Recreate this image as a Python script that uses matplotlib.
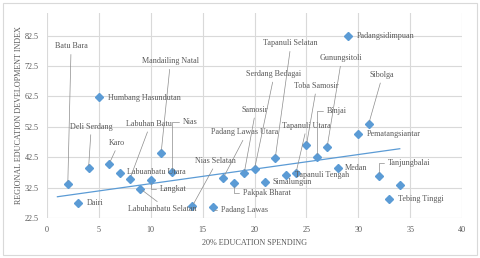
import matplotlib.pyplot as plt
from matplotlib.patches import Rectangle

plt.rcParams['font.family'] = ['Liberation Serif', 'DejaVu Serif']

# data
regions = ['Batu Bara', 'Dairi', 'Deli Serdang', 'Humbang Hasundutan', 'Karo',
           'Labuanbatu Utara', 'Labuhan Batu', 'Labuhanbatu Selatan', 'Langkat',
           'Mandailing Natal', 'Nias', 'Nias Selatan', 'Padang Lawas',
           'Padang Lawas Utara', 'Pakpak Bharat', 'Samosir', 'Serdang Bedagai',
           'Simalungun', 'Tapanuli Selatan', 'Tapanuli Tengah', 'Tapanuli Utara',
           'Toba Samosir', 'Binjai', 'Gunungsitoli', 'Medan', 'Padangsidimpuan',
           'Pematangsiantar', 'Sibolga', 'Tanjungbalai', 'Tebing Tinggi', '']
spending = [2, 3, 4, 5, 6, 7, 8, 9, 10, 11, 12, 14, 16, 17, 18, 19, 20, 21, 22,
            23, 24, 25, 26, 27, 28, 29, 30, 31, 32, 33, 34]
index = [33.6, 27.4, 38.8, 62.3, 40.4, 37.4, 35.5, 32.1, 34.9, 44.0, 37.6, 26.4,
         26.1, 35.8, 33.9, 37.2, 38.6, 34.3, 42.3, 36.6, 37.4, 46.4, 42.5, 45.9,
         39.1, 82.4, 50.2, 53.4, 36.4, 28.8, 33.3]

trend_x = [1, 34]
trend_y = [29.5, 45.3]

# label layout: name -> (x, y, style)  style: 'r' right of point, 'l' leader line, 'b' bracket
label_pos = {
    'Batu Bara': (2.31, 79.0, 'l'),
    'Mandailing Natal': (11.86, 74.1, 'l'),
    'Deli Serdang': (4.24, 52.6, 'l'),
    'Labuhan Batu': (9.83, 53.5, 'l'),
    'Nias': (13.1, 54.2, 'b'),
    'Karo': (6.75, 47.3, 'l'),
    'Langkat': (10.9, 32.0, 'b'),
    'Labuhanbatu Selatan': (11.08, 25.4, 'l'),
    'Nias Selatan': (16.19, 41.3, 'l'),
    'Padang Lawas Utara': (19.08, 50.7, 'l'),
    'Pakpak Bharat': (18.9, 30.7, 'b'),
    'Samosir': (20.05, 58.1, 'l'),
    'Serdang Bedagai': (21.83, 69.9, 'l'),
    'Tapanuli Selatan': (23.47, 80.0, 'l'),
    'Tapanuli Utara': (24.96, 52.9, 'l'),
    'Toba Samosir': (25.93, 66.0, 'l'),
    'Gunungsitoli': (28.34, 75.1, 'l'),
    'Binjai': (27.0, 57.8, 'b'),
    'Sibolga': (32.24, 69.6, 'l'),
    'Tanjungbalai': (32.85, 40.5, 'b'),
    'Padang Lawas': (16.8, 25.2, 'b'),
    'Humbang Hasundutan': (5.88, 62.0, 'r'),
    'Labuanbatu Utara': (7.71, 37.5, 'r'),
    'Dairi': (3.86, 27.4, 'r'),
    'Simalungun': (21.78, 34.2, 'r'),
    'Tapanuli Tengah': (23.9, 36.7, 'r'),
    'Medan': (28.72, 39.1, 'r'),
    'Padangsidimpuan': (29.88, 82.3, 'r'),
    'Pematangsiantar': (30.84, 50.2, 'r'),
    'Tebing Tinggi': (33.83, 28.7, 'r'),
}

blue = '#5b9bd5'
grey_text = '#595959'
grid_c = '#d9d9d9'
fs = 5.9

fig = plt.figure(figsize=(4.8, 2.58), dpi=100)
fig.patches.append(Rectangle((0.006, 0.012), 0.988, 0.976, transform=fig.transFigure,
                             fill=False, edgecolor=grid_c, linewidth=0.8))
ax = fig.add_axes([0.098, 0.155, 0.8645, 0.795])

ax.plot(trend_x, trend_y, color=blue, linewidth=0.9, zorder=2)
ax.plot(spending, index, linestyle='none', marker='D', markersize=3.8,
        color=blue, zorder=3)

for name, x, y in zip(regions, spending, index):
    if name not in label_pos:
        continue
    lx, ly, style = label_pos[name]
    if style == 'r':
        ax.text(lx, ly, name, ha='left', va='center', fontsize=fs, color=grey_text)
    elif style == 'b':
        ax.annotate(name, xy=(x, y), xytext=(lx, ly), ha='left', va='center',
                    fontsize=fs, color=grey_text,
                    arrowprops=dict(arrowstyle='-', color='#8c8c8c', lw=0.5,
                                    relpos=(0, 0.5), shrinkA=1, shrinkB=2,
                                    connectionstyle='angle,angleA=0,angleB=90,rad=0'))
    else:
        rel = (0.5, 1) if ly < y else (0.5, 0)
        ax.annotate(name, xy=(x, y), xytext=(lx, ly), ha='center', va='center',
                    fontsize=fs, color=grey_text,
                    arrowprops=dict(arrowstyle='-', color='#8c8c8c', lw=0.5,
                                    relpos=rel, shrinkA=1, shrinkB=2))

ax.set_xlim(0, 40)
ax.set_ylim(22.5, 90)
ax.set_xticks(range(0, 41, 5))
ax.set_yticks([22.5, 32.5, 42.5, 52.5, 62.5, 72.5, 82.5])
ax.set_yticklabels(['22.5', '32.5', '42.5', '52.5', '62.5', '72.5', '82.5'])
ax.grid(True, color=grid_c, linewidth=0.8)
ax.set_axisbelow(True)
for s in ax.spines.values():
    s.set_visible(False)
ax.tick_params(length=0, labelsize=fs, labelcolor=grey_text, pad=6)
ax.set_xlabel('20% EDUCATION SPENDING', fontsize=fs, color=grey_text, labelpad=3)
ax.set_ylabel('REGIONAL EDUCATION DEVELOPMENT INDEX', fontsize=fs, color=grey_text,
              labelpad=1)

fig.savefig('out.png', dpi=100)
